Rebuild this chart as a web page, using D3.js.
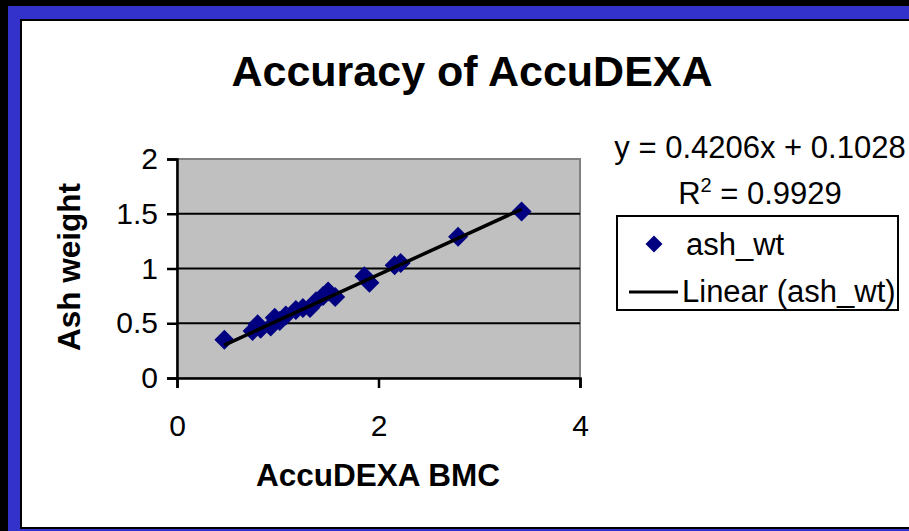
<!DOCTYPE html>
<html><head><meta charset="utf-8">
<script src="https://cdn.jsdelivr.net/npm/d3@7"></script>
<style>html,body{margin:0;padding:0;background:#000;}svg{display:block;}</style>
</head><body>
<script>
const ashX = [0.47,0.75,0.80,0.83,0.93,0.97,1.02,1.08,1.18,1.25,1.32,1.38,1.45,1.50,1.57,1.86,1.91,2.16,2.22,2.79,3.42];
const ashY = [0.35,0.43,0.49,0.45,0.47,0.55,0.52,0.57,0.62,0.64,0.64,0.70,0.75,0.79,0.74,0.93,0.87,1.03,1.05,1.29,1.52];
const slope = 0.4206, intercept = 0.1028, r2 = "0.9929";
const xTicks = [0,2,4];
const yTicks = [0,0.5,1,1.5,2];
const title = "Accuracy of AccuDEXA";
const xTitle = "AccuDEXA BMC";
const yTitle = "Ash weight";
const seriesName = "ash_wt";

const W=909,H=531;
const svg=d3.select("body").append("svg").attr("width",W).attr("height",H);
const font="Liberation Sans, Arial, sans-serif";
// frame
svg.append("rect").attr("width",W).attr("height",H).attr("fill","#000");
svg.append("rect").attr("x",8).attr("y",6).attr("width",W-8).attr("height",H-6).attr("fill","#3333CC");
svg.append("rect").attr("x",20).attr("y",19).attr("width",W-20).attr("height",510).attr("fill","#000");
svg.append("rect").attr("x",22).attr("y",21).attr("width",W-22).attr("height",506).attr("fill","#fff");

const x=d3.scaleLinear().domain([0,4]).range([177,580]);
const y=d3.scaleLinear().domain([0,2]).range([378,159]);

svg.append("text").attr("x",472).attr("y",86).attr("text-anchor","middle")
 .attr("font-family",font).attr("font-weight","bold").attr("font-size",43).text(title);

// plot area
svg.append("rect").attr("x",x(0)).attr("y",y(2)).attr("width",x(4)-x(0)).attr("height",y(0)-y(2))
 .attr("fill","#C0C0C0").attr("stroke","#808080").attr("stroke-width",2);
// gridlines
svg.append("g").selectAll("line").data(yTicks.filter(d=>d>0&&d<2)).join("line")
 .attr("x1",x(0)).attr("x2",x(4)).attr("y1",d=>y(d)).attr("y2",d=>y(d)).attr("stroke","#000").attr("stroke-width",2);

const yAxis=svg.append("g").attr("transform",`translate(${x(0)},0)`)
 .call(d3.axisLeft(y).tickValues(yTicks).tickSize(10).tickPadding(9).tickFormat(d3.format("")));
const xAxis=svg.append("g").attr("transform",`translate(0,${y(0)})`)
 .call(d3.axisBottom(x).tickValues(xTicks).tickSize(10).tickPadding(48).tickFormat(d3.format("")));
[yAxis,xAxis].forEach(a=>{
 a.select(".domain").attr("stroke","#000").attr("stroke-width",2.5);
 a.selectAll(".tick line").attr("stroke","#000").attr("stroke-width",2.5);
 a.selectAll("text").attr("font-family",font).attr("font-size",30).attr("fill","#000");
});
xAxis.selectAll("text").attr("dy","0");

// points
const diamond=(s)=>`M0,${-s}L${s},0L0,${s}L${-s},0Z`;
svg.append("g").selectAll("path").data(ashX.map((v,i)=>[v,ashY[i]])).join("path")
 .attr("d",diamond(10)).attr("transform",d=>`translate(${x(d[0])},${y(d[1])})`).attr("fill","#000080");
// trendline
const xmin=d3.min(ashX),xmax=d3.max(ashX);
svg.append("line").attr("x1",x(xmin)).attr("y1",y(slope*xmin+intercept)).attr("x2",x(xmax)).attr("y2",y(slope*xmax+intercept))
 .attr("stroke","#000").attr("stroke-width",3.5);

// axis titles
svg.append("text").attr("x",378).attr("y",486).attr("text-anchor","middle").attr("font-family",font)
 .attr("font-weight","bold").attr("font-size",31.5).text(xTitle);
svg.append("text").attr("transform","translate(80,267) rotate(-90)").attr("text-anchor","middle").attr("font-family",font)
 .attr("font-weight","bold").attr("font-size",31.5).text(yTitle);

// equation
svg.append("text").attr("x",760).attr("y",158).attr("text-anchor","middle").attr("font-family",font).attr("font-size",31)
 .text(`y = ${slope}x + ${intercept}`);
const rt=svg.append("text").attr("x",760).attr("y",204).attr("text-anchor","middle").attr("font-family",font).attr("font-size",31);
rt.append("tspan").text("R");
rt.append("tspan").attr("dy",-12).attr("font-size",20).text("2");
rt.append("tspan").attr("dy",12).text(` = ${r2}`);

// legend
svg.append("rect").attr("x",617).attr("y",216).attr("width",281).attr("height",94).attr("fill","#fff").attr("stroke","#000").attr("stroke-width",2);
svg.append("path").attr("d",diamond(8.5)).attr("transform","translate(654,244)").attr("fill","#000080");
svg.append("text").attr("x",686).attr("y",255).attr("font-family",font).attr("font-size",31).text(seriesName);
svg.append("line").attr("x1",629).attr("x2",678).attr("y1",292).attr("y2",292).attr("stroke","#000").attr("stroke-width",3);
svg.append("text").attr("x",682).attr("y",302).attr("font-family",font).attr("font-size",31).text(`Linear (${seriesName})`);
</script>
</body></html>
